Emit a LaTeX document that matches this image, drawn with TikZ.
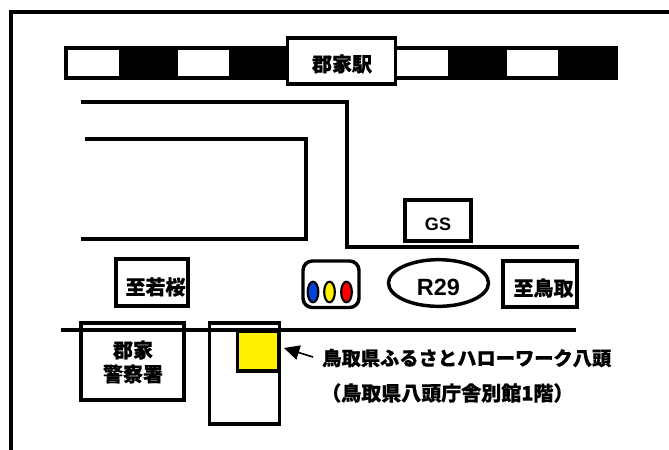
\documentclass[tikz,border=0pt]{standalone}
\usepackage{fontspec}
\setmainfont{Noto Sans CJK JP}[BoldFeatures={FakeBold=0.6}]
\newfontfamily\latinbold{Liberation Sans}
\usetikzlibrary{arrows.meta,shapes.geometric}
\tikzset{
  x=0.75pt,y=-0.75pt,
  road/.style={line width=2.8pt,draw=black,line join=miter},
  labelbox/.style={draw=black,line width=2.8pt,fill=white,inner sep=0pt},
  tag/.style={font=\fontsize{15}{18}\selectfont\bfseries,inner sep=0pt,align=center},
  lamp/.style={ellipse,draw=black,line width=1.6pt,minimum width=8pt,minimum height=15.5pt,inner sep=0pt},
}
\begin{document}
\begin{tikzpicture}
\useasboundingbox (0,0) rectangle (669,450);
\draw[road] (11,450) -- (11,12) -- (669,12);
% railway
\fill[black] (64,45.5) rectangle (618,80);
\fill[white] (67.5,49.5) rectangle (119,76);
\fill[white] (177.5,49.5) rectangle (229,76);
\fill[white] (396,49.5) rectangle (448,76);
\fill[white] (507,49.5) rectangle (558,76);
\node[labelbox,minimum width=81pt,minimum height=35pt] (station) at (341.5,61) {};
\node[tag] at (342,64) {郡家駅};
% roads
\coordinate (r1a) at (81,102); \coordinate (r1b) at (347,102);
\coordinate (r1c) at (347,247); \coordinate (r1d) at (579,247);
\draw[road] (r1a) -- (r1b) -- (r1c) -- (r1d);
\coordinate (r2a) at (85,139); \coordinate (r2b) at (306,139);
\coordinate (r2c) at (306,239); \coordinate (r2d) at (81,239);
\draw[road] (r2a) -- (r2b) -- (r2c) -- (r2d);
\coordinate (r3a) at (61,330); \coordinate (r3b) at (576,330);
\draw[road] (r3a) -- (r3b);
% GS
\node[labelbox,minimum width=50pt,minimum height=31pt] (gs) at (438,220.5) {};
\node[font=\fontsize{13.5}{15}\selectfont\latinbold\bfseries,inner sep=0pt] at (438,224) {GS};
% signal
\draw[line width=2.6pt,rounded corners=7pt,fill=white] (303,261) rectangle (359,307.5);
\node[lamp,fill=blue!70!cyan!85!black] (lb) at (313,292) {};
\node[lamp,fill=yellow] (ly) at (329.5,292) {};
\node[lamp,fill=red] (lr) at (346.5,292) {};
% R29
\node[ellipse,draw=black,line width=2.6pt,minimum width=75pt,minimum height=35pt,inner sep=0pt] (r29) at (438.5,283) {};
\node[font=\fontsize{17.6}{19}\selectfont\latinbold\bfseries,inner sep=0pt] at (438.5,287) {R29};
% direction boxes
\node[labelbox,minimum width=54.5pt,minimum height=35pt] (wakasa) at (152,282.5) {};
\node[tag] at (155.5,287) {至若桜};
\node[labelbox,minimum width=55pt,minimum height=35pt] (tottori) at (540,284) {};
\node[tag] at (543.5,288) {至鳥取};
% police (transparent box)
\draw[line width=2.8pt] (81,323) rectangle (184,400);
\node[tag] (police) at (133,362) {郡家\\警察署};
% building
\draw[line width=2.8pt,fill=yellow] (237.5,331) rectangle (278.5,371);
\draw[line width=2.8pt] (209.5,323) rectangle (279.5,424);
% callout
\node[font=\fontsize{14.45}{16}\selectfont\bfseries,inner sep=0pt,anchor=west] (place) at (322,358) {鳥取県ふるさとハローワーク八頭};
\node[font=\fontsize{15}{16}\selectfont\bfseries,inner sep=0pt,anchor=west] (annex) at (321,393) {（鳥取県八頭庁舎別館1階）};
\coordinate (tip) at (284,348);
\coordinate (tail) at (313,357);
\draw[line width=1.2pt,-{Triangle[length=11.5pt,width=11pt]}] (tail) -- (tip);
\end{tikzpicture}
\end{document}
